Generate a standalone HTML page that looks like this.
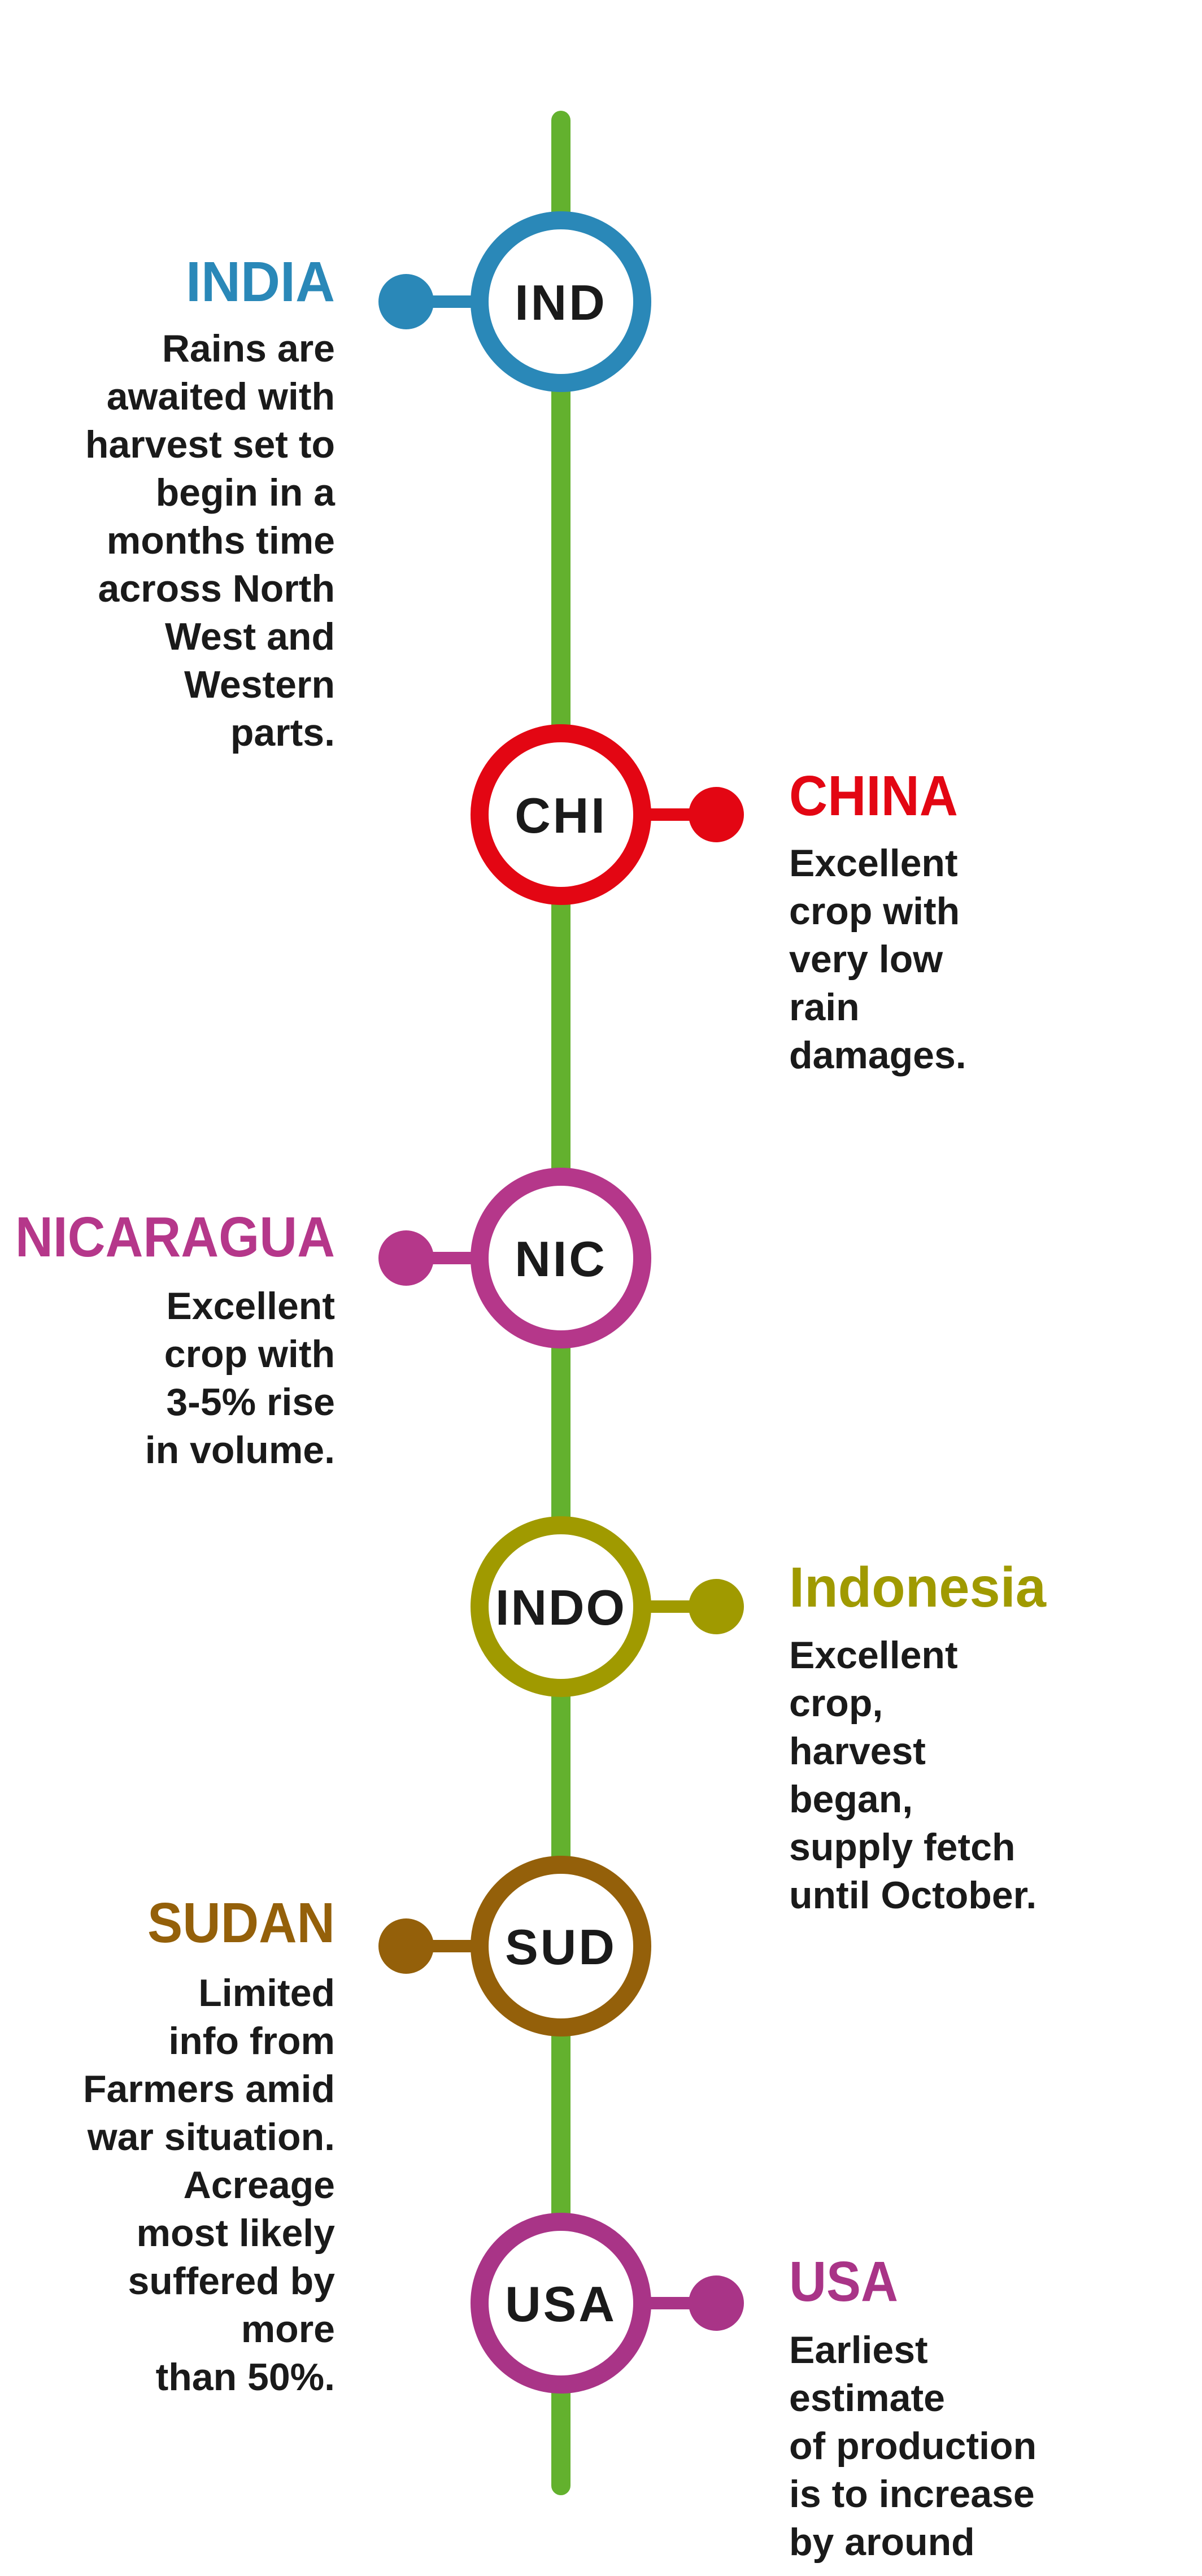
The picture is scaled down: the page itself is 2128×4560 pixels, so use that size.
<!DOCTYPE html>
<html><head><meta charset="utf-8"><style>
html,body{margin:0;padding:0;background:#fff;}
svg{display:block;}
text{font-family:"Liberation Sans",Arial,sans-serif;font-weight:bold;}
.t{font-size:100px;}
.b{font-size:68px;fill:#1a1a1a;}
.c{font-size:88px;fill:#1a1a1a;letter-spacing:4px;}
</style></head><body>
<svg width="2128" height="4560" viewBox="0 0 2128 4560" xmlns="http://www.w3.org/2000/svg">
<line x1="993" y1="213" x2="993" y2="4400" stroke="#63b12e" stroke-width="34" stroke-linecap="round"/>

<!-- IND -->
<line x1="719" y1="534" x2="900" y2="534" stroke="#2a88b8" stroke-width="22"/>
<circle cx="719" cy="534" r="49" fill="#2a88b8"/>
<circle cx="993" cy="534" r="144" fill="#fff" stroke="#2a88b8" stroke-width="32"/>
<text class="c" x="993" y="566" text-anchor="middle">IND</text>
<text class="t" x="329" y="533" textLength="264" lengthAdjust="spacingAndGlyphs" fill="#2a88b8">INDIA</text>
<text class="b" text-anchor="end">
<tspan x="593" y="640">Rains are</tspan><tspan x="593" y="725">awaited with</tspan><tspan x="593" y="810">harvest set to</tspan><tspan x="593" y="895">begin in a</tspan><tspan x="593" y="980">months time</tspan><tspan x="593" y="1065">across North</tspan><tspan x="593" y="1150">West and</tspan><tspan x="593" y="1235">Western</tspan><tspan x="593" y="1320">parts.</tspan></text>

<!-- CHI -->
<line x1="1090" y1="1442" x2="1268" y2="1442" stroke="#e30613" stroke-width="22"/>
<circle cx="1268" cy="1442" r="49" fill="#e30613"/>
<circle cx="993" cy="1442" r="144" fill="#fff" stroke="#e30613" stroke-width="32"/>
<text class="c" x="993" y="1474" text-anchor="middle">CHI</text>
<text class="t" x="1397" y="1443" textLength="299" lengthAdjust="spacingAndGlyphs" fill="#e30613">CHINA</text>
<text class="b"><tspan x="1397" y="1551">Excellent</tspan><tspan x="1397" y="1636">crop with</tspan><tspan x="1397" y="1721">very low</tspan><tspan x="1397" y="1806">rain</tspan><tspan x="1397" y="1891">damages.</tspan></text>

<!-- NIC -->
<line x1="719" y1="2227" x2="900" y2="2227" stroke="#b5378a" stroke-width="22"/>
<circle cx="719" cy="2227" r="49" fill="#b5378a"/>
<circle cx="993" cy="2227" r="144" fill="#fff" stroke="#b5378a" stroke-width="32"/>
<text class="c" x="993" y="2259" text-anchor="middle">NIC</text>
<text class="t" x="27" y="2224" textLength="566" lengthAdjust="spacingAndGlyphs" fill="#b5378a">NICARAGUA</text>
<text class="b" text-anchor="end"><tspan x="593" y="2335">Excellent</tspan><tspan x="593" y="2420">crop with</tspan><tspan x="593" y="2505">3-5% rise</tspan><tspan x="593" y="2590">in volume.</tspan></text>

<!-- INDO -->
<line x1="1090" y1="2844" x2="1268" y2="2844" stroke="#a09a00" stroke-width="22"/>
<circle cx="1268" cy="2844" r="49" fill="#a09a00"/>
<circle cx="993" cy="2844" r="144" fill="#fff" stroke="#a09a00" stroke-width="32"/>
<text class="c" x="993" y="2876" text-anchor="middle" style="letter-spacing:3px">INDO</text>
<text class="t" x="1397" y="2844" textLength="455" lengthAdjust="spacingAndGlyphs" fill="#a09a00">Indonesia</text>
<text class="b"><tspan x="1397" y="2953">Excellent</tspan><tspan x="1397" y="3038">crop,</tspan><tspan x="1397" y="3123">harvest</tspan><tspan x="1397" y="3208">began,</tspan><tspan x="1397" y="3293">supply fetch</tspan><tspan x="1397" y="3378">until October.</tspan></text>

<!-- SUD -->
<line x1="719" y1="3445" x2="900" y2="3445" stroke="#94600a" stroke-width="22"/>
<circle cx="719" cy="3445" r="49" fill="#94600a"/>
<circle cx="993" cy="3445" r="144" fill="#fff" stroke="#94600a" stroke-width="32"/>
<text class="c" x="993" y="3477" text-anchor="middle">SUD</text>
<text class="t" x="261" y="3438" textLength="332" lengthAdjust="spacingAndGlyphs" fill="#94600a">SUDAN</text>
<text class="b" text-anchor="end"><tspan x="593" y="3551">Limited</tspan><tspan x="593" y="3636">info from</tspan><tspan x="593" y="3721">Farmers amid</tspan><tspan x="593" y="3806">war situation.</tspan><tspan x="593" y="3891">Acreage</tspan><tspan x="593" y="3976">most likely</tspan><tspan x="593" y="4061">suffered by</tspan><tspan x="593" y="4146">more</tspan><tspan x="593" y="4231">than 50%.</tspan></text>

<!-- USA -->
<line x1="1090" y1="4077" x2="1268" y2="4077" stroke="#a93487" stroke-width="22"/>
<circle cx="1268" cy="4077" r="49" fill="#a93487"/>
<circle cx="993" cy="4077" r="144" fill="#fff" stroke="#a93487" stroke-width="32"/>
<text class="c" x="993" y="4109" text-anchor="middle">USA</text>
<text class="t" x="1397" y="4073" textLength="193" lengthAdjust="spacingAndGlyphs" fill="#a93487">USA</text>
<text class="b"><tspan x="1397" y="4183">Earliest</tspan><tspan x="1397" y="4268">estimate</tspan><tspan x="1397" y="4353">of production</tspan><tspan x="1397" y="4438">is to increase</tspan><tspan x="1397" y="4523">by around</tspan><tspan x="1397" y="4608">20%.</tspan></text>
</svg>
</body></html>
